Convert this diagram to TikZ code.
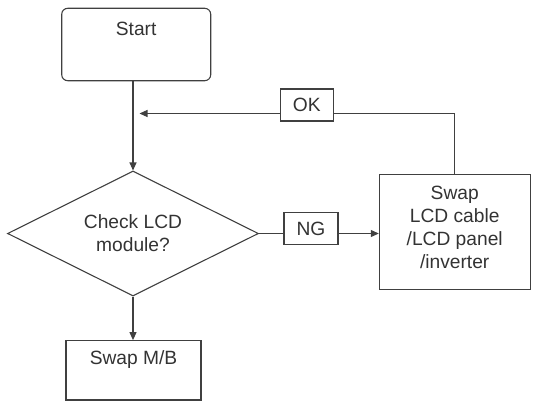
\documentclass[tikz,border=0pt]{standalone}
\usepackage{fontspec}
\setmainfont{Liberation Sans}
\usetikzlibrary{shapes.geometric,arrows.meta}
\begin{document}
\begin{tikzpicture}[x=1pt,y=-1pt,
    every node/.style={font=\fontsize{19.2}{23}\selectfont, text=black!80},
    line/.style={draw=black!75, line width=1.1pt},
    arr/.style={line, -{Triangle[length=8pt,width=7pt]}},
    box/.style={line, rectangle, inner sep=0pt, align=center},
    tag/.style={box, fill=white, minimum height=32pt}]

\useasboundingbox (0,0) rectangle (534,404);

\node[box, rounded corners=6pt, minimum width=149pt,
      text height=26.7pt, text depth=45.7pt] (start) at (136.2,44.5) {Start};

\node[line, diamond, aspect=2, minimum width=251pt, minimum height=125pt,
      inner sep=0pt, align=center] (check) at (133,233.5) {Check LCD\\module?};

\node[box, minimum width=150.7pt,
      text height=93.7pt, text depth=21.3pt] (swap) at (454.7,231.8)
      {Swap\\LCD cable\\/LCD panel\\/inverter};

\node[box, minimum width=135pt,
      text height=24.3pt, text depth=35pt] (mb) at (133.5,370.3) {Swap M/B};

\coordinate (okend) at (139.5,113.5);

\draw[arr] (check.north |- start.south) -- (check.north);
\draw[arr] (check.south) -- (check.south |- mb.north);
\draw[arr] (check.east) -- (check.east -| swap.west);
\draw[arr] (swap.north) |- (okend);

% labels on the lines
\node[tag, minimum width=53pt] (ok) at (306.7,105) {OK};
\node[tag, minimum width=54pt] (ng) at (311,228.5) {NG};

\end{tikzpicture}
\end{document}
